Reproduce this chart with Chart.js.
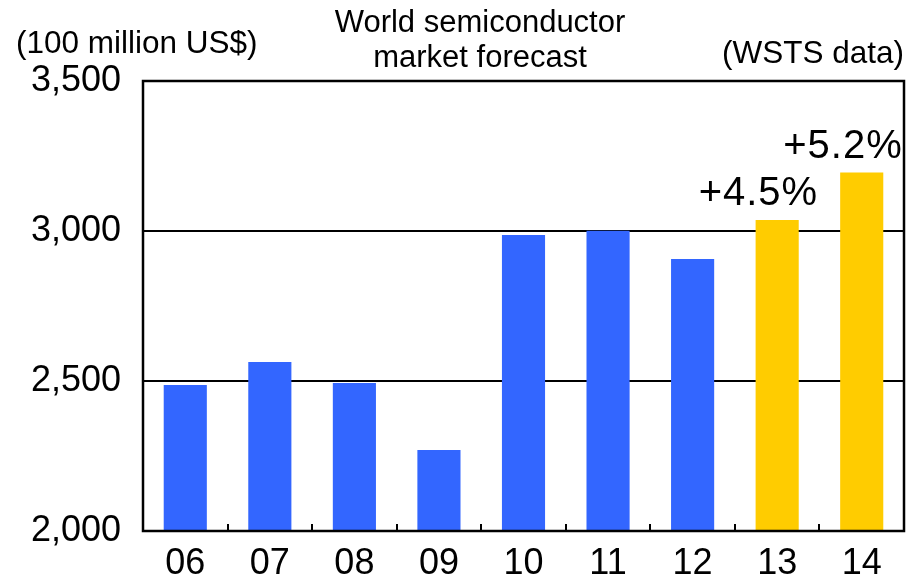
<!DOCTYPE html>
<html>
<head>
<meta charset="utf-8">
<script src="https://cdn.jsdelivr.net/npm/chart.js@4"></script>
<style>
  html, body { margin: 0; padding: 0; background: #fff; }
  #wrap { width: 922px; height: 575px; position: relative; }
</style>
</head>
<body>
<div id="wrap"><canvas id="c" width="922" height="575"></canvas></div>
<script>
// Years (two-digit labels) and market size in 100 million US$
const years = ['06', '07', '08', '09', '10', '11', '12', '13', '14'];
const marketSize = [2487, 2563, 2493, 2270, 2987, 3001, 2907, 3037, 3195];
// Forecast years are highlighted in yellow
const isForecast = [false, false, false, false, false, false, false, true, true];
// Growth labels above the forecast bars
const growthLabels = ['', '', '', '', '', '', '', '+4.5%', '+5.2%'];
const yTicks = [2000, 2500, 3000, 3500];

const titleLines = ['World semiconductor', 'market forecast'];
const unitLabel = '(100 million US$)';
const sourceLabel = '(WSTS data)';

const FONT = '"Liberation Sans", Arial, sans-serif';
const BLUE = '#3366FF';
const YELLOW = '#FFCC00';

const decorations = {
  id: 'decorations',
  afterDatasetsDraw(chart) {
    const { ctx, chartArea: a, scales: { x } } = chart;
    ctx.save();
    // inward tick marks between categories
    ctx.strokeStyle = '#000';
    ctx.lineWidth = 2;
    for (let i = 1; i < years.length; i++) {
      const px = Math.round((x.getPixelForValue(i - 1) + x.getPixelForValue(i)) / 2);
      ctx.beginPath();
      ctx.moveTo(px, a.bottom);
      ctx.lineTo(px, a.bottom - 7);
      ctx.stroke();
    }
    // plot frame
    ctx.lineWidth = 2.5;
    ctx.strokeRect(a.left, a.top, a.right - a.left, a.bottom - a.top);

    // growth labels
    const meta = chart.getDatasetMeta(0);
    ctx.fillStyle = '#000';
    ctx.font = '40px ' + FONT;
    ctx.letterSpacing = '1px';
    ctx.textAlign = 'right';
    ctx.textBaseline = 'alphabetic';
    meta.data.forEach((bar, i) => {
      if (!growthLabels[i]) return;
      ctx.fillText(growthLabels[i], bar.x + 41, bar.y - 15);
    });
    ctx.letterSpacing = '0px';

    // titles and side labels
    ctx.font = '31px ' + FONT;
    ctx.textAlign = 'center';
    ctx.fillText(titleLines[0], 480, 32);
    ctx.fillText(titleLines[1], 480, 67);
    ctx.font = '31.5px ' + FONT;
    ctx.textAlign = 'left';
    ctx.fillText(unitLabel, 16, 53);
    ctx.textAlign = 'right';
    ctx.fillText(sourceLabel, 904, 63);
    ctx.restore();
  }
};

new Chart(document.getElementById('c'), {
  type: 'bar',
  data: {
    labels: years,
    datasets: [{
      data: marketSize,
      backgroundColor: isForecast.map(f => f ? YELLOW : BLUE),
      borderWidth: 0,
      barPercentage: 0.51,
      categoryPercentage: 1.0
    }]
  },
  options: {
    responsive: false,
    animation: false,
    devicePixelRatio: 1,
    layout: { padding: { left: 0, right: 18, top: 81, bottom: 0 } },
    plugins: { legend: { display: false }, tooltip: { enabled: false }, title: { display: false } },
    scales: {
      x: {
        offset: true,
        grid: { display: false },
        border: { display: false },
        ticks: { color: '#000', font: { family: FONT, size: 36 }, padding: 3, maxRotation: 0 },
        afterFit(scale) { scale.height = 44; }
      },
      y: {
        min: 2000,
        max: 3500,
        afterBuildTicks(scale) { scale.ticks = yTicks.map(v => ({ value: v })); },
        grid: { color: '#000', lineWidth: 2, drawTicks: false },
        border: { display: false },
        ticks: {
          color: '#000',
          font: { family: FONT, size: 36 },
          padding: 22,
          callback: v => v.toLocaleString('en-US')
        },
        afterFit(scale) { scale.width = 143; }
      }
    }
  },
  plugins: [decorations]
});
</script>
</body>
</html>
